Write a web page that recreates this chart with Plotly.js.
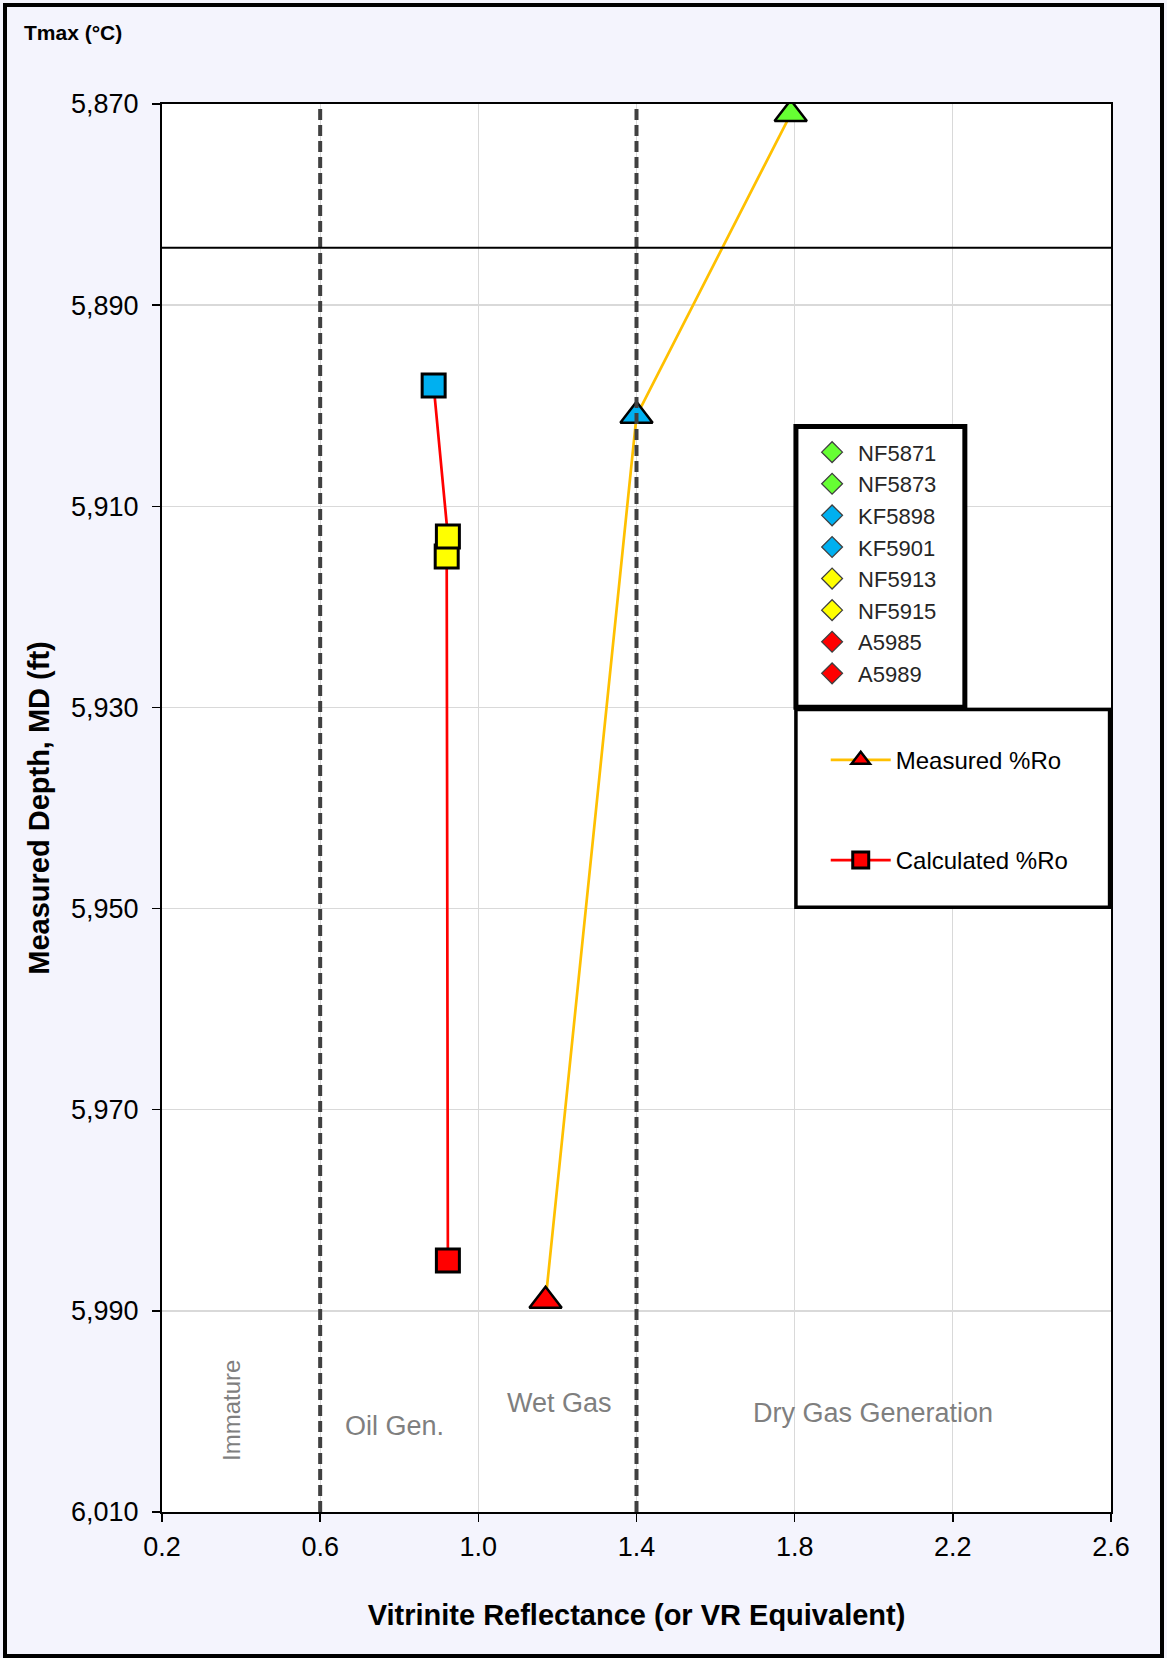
<!DOCTYPE html>
<html>
<head>
<meta charset="utf-8">
<script src="https://cdn.plot.ly/plotly-3.0.1.min.js"></script>
<style>
  html, body { margin: 0; padding: 0; background: #ffffff; }
  #wrap { position: relative; width: 1167px; height: 1658px; }
  #chart { position: absolute; left: 0; top: 0; width: 1167px; height: 1658px; }
  #frame { position: absolute; left: 3px; top: 3px; width: 1161px; height: 1655px;
           border: 4px solid #000; box-sizing: border-box; pointer-events: none; }
</style>
</head>
<body>
<div id="wrap"><div id="chart"></div><div id="frame"></div></div>
<script>
// ---- data ----
const sampleNames  = ['NF5871', 'NF5873', 'KF5898', 'KF5901', 'NF5913', 'NF5915', 'A5985', 'A5989'];
const sampleColors = ['#66FF33', '#66FF33', '#00B0F0', '#00B0F0', '#FFFF00', '#FFFF00', '#FF0000', '#FF0000'];

const measuredRo     = [1.17, 1.40, 1.79];
const measuredDepth  = [5989, 5901, 5871];
const measuredColors = ['#FF0000', '#00B0F0', '#66FF33'];

const calcRo     = [0.923, 0.920, 0.923, 0.887];
const calcDepth  = [5985, 5915, 5913, 5898];
const calcColors = ['#FF0000', '#FFFF00', '#FFFF00', '#00B0F0'];

const zoneBoundaries = [0.6, 1.4];
const referenceDepth = 5884.3;

const xTicks = [0.2, 0.6, 1.0, 1.4, 1.8, 2.2, 2.6];
const yTicks = [5870, 5890, 5910, 5930, 5950, 5970, 5990, 6010];

const zoneLabels = ['Immature', 'Oil Gen.', 'Wet Gas', 'Dry Gas Generation'];

// ---- traces ----
const FONT = 'Liberation Sans, Arial, sans-serif';
const traces = [];

sampleNames.forEach((name, i) => {
  traces.push({
    type: 'scatter', mode: 'markers', name: name,
    x: [null], y: [null],
    marker: { symbol: 'diamond', size: 16, color: sampleColors[i], line: { color: '#404040', width: 1.3 } },
    legend: 'legend', hoverinfo: 'skip'
  });
});

traces.push({
  type: 'scatter', mode: 'lines+markers', name: 'Measured %Ro',
  x: measuredRo, y: measuredDepth,
  line: { color: '#FFC000', width: 2.7 },
  marker: { symbol: 'triangle-up', size: 28, color: measuredColors, line: { color: '#000', width: 2.5 } },
  legend: 'legend2', legendgroup: 'm'
});

traces.push({
  type: 'scatter', mode: 'lines+markers', name: 'Calculated %Ro',
  x: calcRo, y: calcDepth,
  line: { color: '#FF0000', width: 2.7 },
  marker: { symbol: 'square', size: 23, color: calcColors, line: { color: '#000', width: 3 } },
  legend: 'legend2', legendgroup: 'c'
});

// ---- shapes ----
const shapes = [];
zoneBoundaries.forEach(v => shapes.push({
  type: 'line', xref: 'x', yref: 'paper', x0: v, x1: v, y0: 0, y1: 1,
  line: { color: '#404040', width: 4, dash: '11px,5px' }, layer: 'above'
}));
shapes.push({
  type: 'line', xref: 'paper', yref: 'y', x0: 0, x1: 1, y0: referenceDepth, y1: referenceDepth,
  line: { color: '#000', width: 2 }, layer: 'above'
});
// legend boxes
shapes.push({ type: 'rect', xref: 'paper', yref: 'paper', x0: 0.668, x1: 0.846, y0: 0.5715, y1: 0.771,
  fillcolor: '#fff', line: { color: '#000', width: 5 }, layer: 'above' });
shapes.push({ type: 'rect', xref: 'paper', yref: 'paper', x0: 0.668, x1: 0.9985, y0: 0.4295, y1: 0.5700,
  fillcolor: '#fff', line: { color: '#000', width: 3.5 }, layer: 'above' });

// ---- annotations ----
const grey = '#7F7F7F';
const annotations = [
  { text: zoneLabels[0], x: 0.376, y: 5999.9, textangle: -90, font: { family: FONT, size: 24, color: grey } },
  { text: zoneLabels[1], x: 0.789, y: 6001.4, font: { family: FONT, size: 27, color: grey } },
  { text: zoneLabels[2], x: 1.205, y: 5999.2, font: { family: FONT, size: 27, color: grey } },
  { text: zoneLabels[3], x: 1.998, y: 6000.2, font: { family: FONT, size: 27, color: grey } },
].map(a => Object.assign({ xref: 'x', yref: 'y', showarrow: false, xanchor: 'center', yanchor: 'middle' }, a));
annotations.push({
  text: '<b>Tmax (°C)</b>', xref: 'paper', yref: 'paper', x: -0.147, y: 1.0505,
  xanchor: 'left', yanchor: 'middle', showarrow: false,
  font: { family: FONT, size: 21, color: '#000' }
});

const layout = {
  width: 1167, height: 1658,
  paper_bgcolor: '#F4F4FD', plot_bgcolor: '#FFFFFF',
  margin: { l: 162, r: 56, t: 104, b: 146, pad: 0 },
  font: { family: FONT, color: '#000' },
  xaxis: {
    range: [0.2, 2.6], tickvals: xTicks, tickformat: '.1f', automargin: false,
    showgrid: true, gridcolor: '#D9D9D9', gridwidth: 1.3, zeroline: false,
    showline: true, linecolor: '#000', linewidth: 2, mirror: true,
    ticks: 'outside', ticklen: 8, tickwidth: 1.5, tickcolor: '#000', ticklabelstandoff: 2,
    tickfont: { family: FONT, size: 27, color: '#000' },
    title: { text: '<b>Vitrinite Reflectance (or VR Equivalent)</b>', standoff: 43,
             font: { family: FONT, size: 29, color: '#000' } }
  },
  yaxis: {
    range: [6010, 5870], tickvals: yTicks, tickformat: ',d', automargin: false,
    showgrid: true, gridcolor: '#D9D9D9', gridwidth: 1.3, zeroline: false,
    showline: true, linecolor: '#000', linewidth: 2, mirror: true,
    ticks: 'outside', ticklen: 8, tickwidth: 1.5, tickcolor: '#000', ticklabelstandoff: 8,
    tickfont: { family: FONT, size: 27, color: '#000' },
    title: { text: '<b>Measured Depth, MD (ft)</b>', standoff: 13,
             font: { family: FONT, size: 29, color: '#000' } }
  },
  showlegend: true,
  legend: {
    x: 0.6787, y: 0.7675, xanchor: 'left', yanchor: 'top', xref: 'paper', yref: 'paper',
    bgcolor: 'rgba(0,0,0,0)', borderwidth: 0, traceorder: 'normal', itemwidth: 42,
    font: { family: FONT, size: 22, color: '#262626' }
  },
  legend2: {
    x: 0.6994, y: 0.5499, xanchor: 'left', yanchor: 'top', xref: 'paper', yref: 'paper',
    bgcolor: 'rgba(0,0,0,0)', borderwidth: 0, traceorder: 'grouped', tracegroupgap: 66,
    itemwidth: 60,
    font: { family: FONT, size: 24, color: '#000' }
  },
  shapes: shapes,
  annotations: annotations
};

Plotly.newPlot('chart', traces, layout, { staticPlot: true });
</script>
</body>
</html>
